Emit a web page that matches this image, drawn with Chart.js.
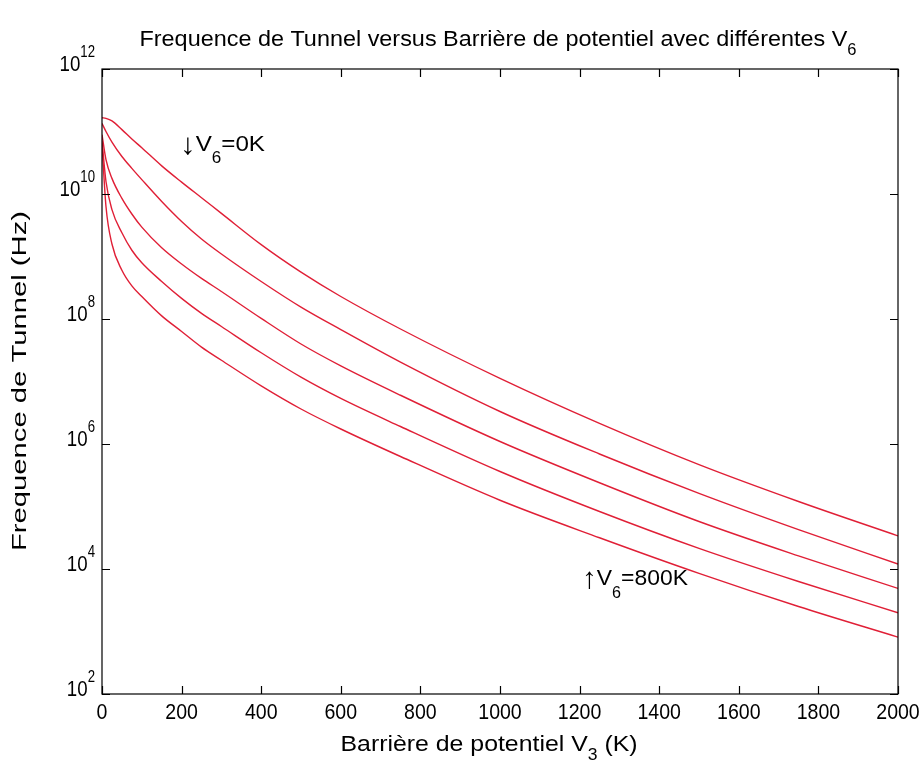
<!DOCTYPE html>
<html>
<head>
<meta charset="utf-8">
<script src="https://cdn.jsdelivr.net/npm/chart.js@4.4.0/dist/chart.umd.min.js"></script>
<style>
  html, body { margin: 0; padding: 0; background: #fff; overflow: hidden; }
  #wrap { width: 924px; height: 763px; }
</style>
</head>
<body>
<div id="wrap"><canvas id="chart" width="924" height="763"></canvas></div>
<script>
// Barrière de potentiel V3 (K)
const barrierV3 = [0, 10, 25, 50, 75, 100, 150, 200, 250, 300, 400, 500, 600, 750, 1000, 1250, 1500, 1750, 2000];

// log10 de la fréquence de tunnel (Hz)
const logFreqV6_0K   = [11.22, 11.21, 11.17, 11.03, 10.88, 10.74, 10.45, 10.19, 9.94, 9.69, 9.19, 8.75, 8.36, 7.84, 7.05, 6.33, 5.67, 5.08, 4.53];
const logFreqV6_200K = [11.13, 11.00, 10.83, 10.60, 10.41, 10.23, 9.88, 9.56, 9.28, 9.04, 8.60, 8.19, 7.83, 7.31, 6.52, 5.84, 5.21, 4.63, 4.08];
const logFreqV6_400K = [10.95, 10.55, 10.25, 9.93, 9.68, 9.47, 9.14, 8.88, 8.65, 8.44, 8.01, 7.60, 7.25, 6.78, 6.04, 5.38, 4.76, 4.21, 3.69];
const logFreqV6_600K = [10.85, 10.20, 9.75, 9.38, 9.10, 8.90, 8.60, 8.33, 8.09, 7.88, 7.46, 7.07, 6.73, 6.28, 5.56, 4.92, 4.33, 3.80, 3.30];
const logFreqV6_800K = [10.80, 9.80, 9.20, 8.78, 8.53, 8.36, 8.05, 7.80, 7.55, 7.34, 6.93, 6.56, 6.24, 5.80, 5.10, 4.50, 3.93, 3.40, 2.91];

const seriesNames = ['V6=0K', 'V6=200K', 'V6=400K', 'V6=600K', 'V6=800K'];
const seriesLogs = [logFreqV6_0K, logFreqV6_200K, logFreqV6_400K, logFreqV6_600K, logFreqV6_800K];

const xTicks = [0, 200, 400, 600, 800, 1000, 1200, 1400, 1600, 1800, 2000];
const yTickExponents = [2, 4, 6, 8, 10, 12];

const FONT = '"Liberation Sans", Arial, sans-serif';
const LINE_RED = '#e01f36';
const STRETCH_Y = 1.35;

// Texte "riche" (indices / exposants), étiré comme la police de MATLAB
function richText(ctx, parts, cx, cy, opts) {
    const sy = opts.sy || STRETCH_Y;
    let total = 0;
    parts.forEach(p => {
        ctx.font = p.size + 'px ' + FONT;
        p.w = ctx.measureText(p.t).width;
        total += p.w;
    });
    const sx = opts.width ? opts.width / total : (opts.sx || 1);
    ctx.save();
    ctx.translate(cx, cy);
    if (opts.rotate) ctx.rotate(opts.rotate);
    ctx.scale(sx, sy);
    let xx = opts.align === 'right' ? -total : (opts.align === 'left' ? 0 : -total / 2);
    ctx.textAlign = 'left';
    ctx.textBaseline = 'middle';
    ctx.fillStyle = '#000';
    parts.forEach(p => {
        ctx.font = p.size + 'px ' + FONT;
        ctx.fillText(p.t, xx, (p.dy || 0) / sy);
        xx += p.w;
    });
    ctx.restore();
}

const matlabAxes = {
    id: 'matlabAxes',
    afterDraw(chart) {
        const { ctx, chartArea: a, scales } = chart;
        const x = scales.x, y = scales.y;
        ctx.save();
        ctx.strokeStyle = '#000';
        ctx.lineWidth = 1.2;
        ctx.strokeRect(a.left, a.top, a.right - a.left, a.bottom - a.top);

        ctx.beginPath();
        xTicks.forEach(v => {
            const px = Math.round(x.getPixelForValue(v)) + 0.5;
            ctx.moveTo(px, a.bottom); ctx.lineTo(px, a.bottom - 8);
            ctx.moveTo(px, a.top); ctx.lineTo(px, a.top + 8);
        });
        yTickExponents.forEach(e => {
            const py = Math.round(y.getPixelForValue(Math.pow(10, e))) + 0.5;
            ctx.moveTo(a.left, py); ctx.lineTo(a.left + 8, py);
            ctx.moveTo(a.right, py); ctx.lineTo(a.right - 8, py);
        });
        ctx.stroke();

        // étiquettes des graduations
        xTicks.forEach(v => {
            richText(ctx, [{ t: String(v), size: 17 }], x.getPixelForValue(v), a.bottom + 19, { sx: 1.15 });
        });
        yTickExponents.forEach(e => {
            const py = y.getPixelForValue(Math.pow(10, e));
            richText(ctx, [{ t: '10', size: 17 }, { t: String(e), size: 12, dy: -12 }], 95, py - 4, { align: 'right', sx: 1.1 });
        });

        // titres
        richText(ctx, [
            { t: 'Frequence de Tunnel versus Barrière de potentiel avec différentes V', size: 17 },
            { t: '6', size: 12, dy: 11 }
        ], 498, 40, { width: 717 });
        richText(ctx, [
            { t: 'Barrière de potentiel V', size: 17 },
            { t: '3', size: 12, dy: 11 },
            { t: ' (K)', size: 17 }
        ], 489, 745, { width: 297 });
        richText(ctx, [{ t: 'Frequence de Tunnel (Hz)', size: 15 }], 20, 381, { width: 340, rotate: -Math.PI / 2 });

        // annotations
        richText(ctx, [
            { t: '\u2193', size: 22, dy: 1 }, { t: 'V', size: 17 }, { t: '6', size: 12, dy: 14 }, { t: '=0K', size: 17 }
        ], 180, 145, { align: 'left', width: 85 });
        richText(ctx, [
            { t: '\u2191', size: 22, dy: 1 }, { t: 'V', size: 17 }, { t: '6', size: 12, dy: 15 }, { t: '=800K', size: 17 }
        ], 582, 579, { align: 'left', width: 106 });
        ctx.restore();
    }
};

const datasets = seriesLogs.map((logs, i) => ({
    label: seriesNames[i],
    data: barrierV3.map((v, j) => ({ x: v, y: Math.pow(10, logs[j]) })),
    borderColor: LINE_RED,
    backgroundColor: LINE_RED,
    borderWidth: 1.4,
    pointRadius: 0,
    fill: false,
    cubicInterpolationMode: 'monotone'
}));

new Chart(document.getElementById('chart').getContext('2d'), {
    type: 'line',
    data: { datasets },
    options: {
        responsive: false,
        animation: false,
        layout: { padding: { left: 102, right: 26, top: 69, bottom: 69 } },
        scales: {
            x: { type: 'linear', min: 0, max: 2000, display: false },
            y: { type: 'logarithmic', min: 1e2, max: 1e12, display: false }
        },
        plugins: {
            legend: { display: false },
            tooltip: { enabled: false },
            title: { display: false }
        }
    },
    plugins: [matlabAxes]
});
</script>
</body>
</html>
